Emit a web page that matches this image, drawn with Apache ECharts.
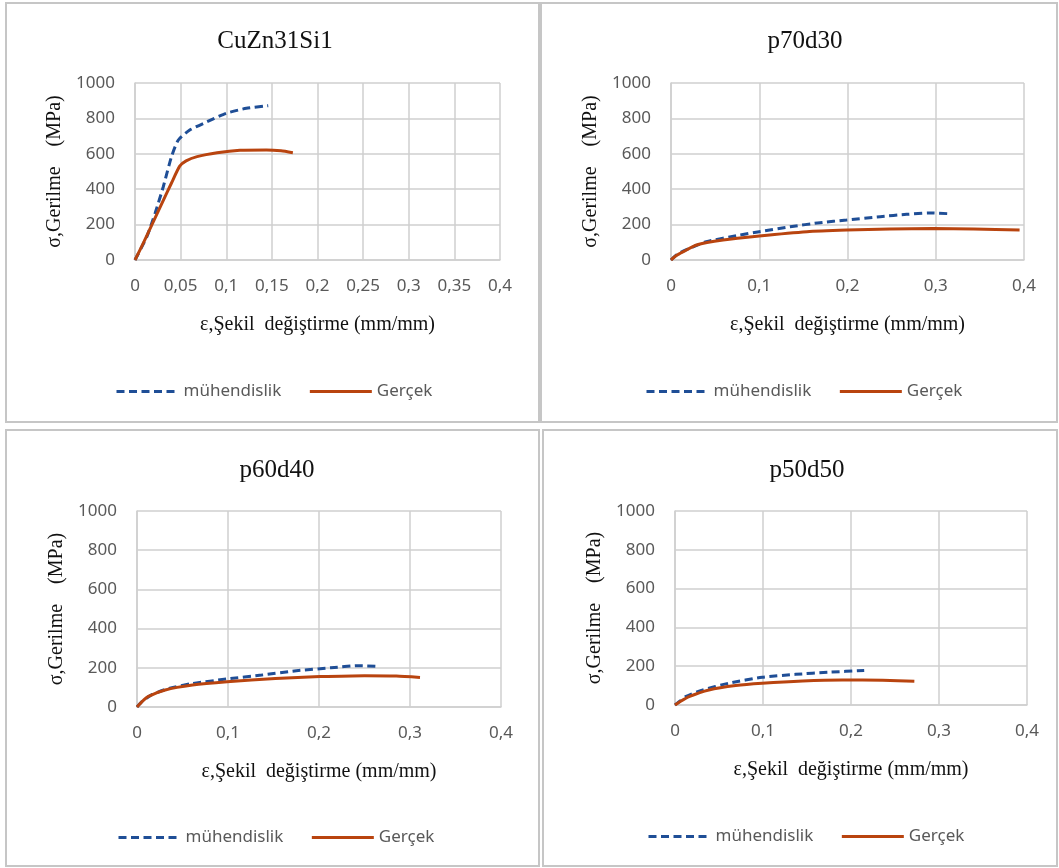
<!DOCTYPE html>
<html>
<head>
<meta charset="utf-8">
<script src="https://cdn.jsdelivr.net/npm/echarts@6/dist/echarts.min.js"></script>
<style>
  html, body { margin: 0; padding: 0; background: #fff; }
  #chart { width: 1059px; height: 868px; }
</style>
</head>
<body>
<div id="chart"></div>
<script>
// panel titles
var titles = ['CuZn31Si1', 'p70d30', 'p60d40', 'p50d50'];
var seriesNames = ['mühendislik', 'Gerçek'];

// [strain, stress MPa]
var cuznMuh = [[0,0],[0.013,132],[0.022,264],[0.031,414],[0.040,584],[0.0475,678],[0.06,734],[0.079,781],[0.10,829],[0.122,857],[0.146,872]];
var cuznGer = [[0,0],[0.01,105],[0.02,215],[0.03,325],[0.04,435],[0.049,530],[0.056,560],[0.068,584],[0.09,606],[0.115,620],[0.144,622],[0.16,617],[0.173,606]];

var p70Muh = [[0,0],[0.008,35],[0.021,66],[0.04,103],[0.078,141],[0.10,160],[0.135,188],[0.169,211],[0.199,226],[0.237,245],[0.267,258],[0.293,266],[0.313,262]];
var p70Ger = [[0,0],[0.006,25],[0.014,47],[0.029,85],[0.059,113],[0.10,136],[0.154,160],[0.199,169],[0.248,175],[0.297,178],[0.343,175],[0.395,169]];

var p60Muh = [[0,0],[0.006,30],[0.0155,61],[0.035,95],[0.061,120],[0.099,143],[0.137,163],[0.175,185],[0.213,200],[0.243,211],[0.263,208]];
var p60Ger = [[0,0],[0.005,25],[0.012,53],[0.031,87],[0.061,112],[0.099,129],[0.152,146],[0.201,155],[0.25,160],[0.285,158],[0.311,151]];

var p50Muh = [[0,0],[0.005,18],[0.012,43],[0.031,77],[0.061,112],[0.099,143],[0.137,158],[0.175,169],[0.215,178]];
var p50Ger = [[0,0],[0.006,18],[0.016,43],[0.0385,77],[0.069,100],[0.099,112],[0.145,124],[0.19,129],[0.236,127],[0.272,122]];

var panelData = [[cuznMuh, cuznGer], [p70Muh, p70Ger], [p60Muh, p60Ger], [p50Muh, p50Ger]];
var xSteps = [0.05, 0.1, 0.1, 0.1];

// layout of each panel (px)
var grids = [
  {left: 135, top: 83, width: 365, height: 177},
  {left: 671, top: 83, width: 353, height: 177},
  {left: 137, top: 511, width: 364, height: 196},
  {left: 675, top: 511, width: 352, height: 194}
];
var frames = [
  {x: 6, y: 3, width: 533, height: 419},
  {x: 541, y: 3, width: 516, height: 419},
  {x: 6, y: 430, width: 533, height: 436},
  {x: 543, y: 430, width: 514, height: 436}
];
var titlePos = [[270, 24], [800, 24], [272, 453], [802, 453]];
var legendPos = [[110, 378], [640, 378], [112, 824], [642, 823]];

var blue = '#1f4e96', red = '#b9440f';
var serif = 'Liberation Serif', sans = 'Noto Sans';

var chart = echarts.init(document.getElementById('chart'));

var option = {
  backgroundColor: '#fff',
  animation: false,
  title: [],
  legend: [],
  grid: [],
  xAxis: [],
  yAxis: [],
  series: [],
  graphic: []
};

function commaFmt(v) {
  return String(Math.round(v * 100) / 100).replace('.', ',');
}

for (var i = 0; i < 4; i++) {
  option.graphic.push({
    type: 'rect', shape: frames[i], silent: true, z: -1,
    style: {fill: 'none', stroke: '#c6c6c6', lineWidth: 2}
  });
  option.title.push({
    text: titles[i], left: titlePos[i][0], top: titlePos[i][1], textAlign: 'center',
    textStyle: {fontFamily: serif, fontSize: 25, fontWeight: 'normal', color: '#111'}
  });
  option.legend.push({
    data: seriesNames, left: legendPos[i][0], top: legendPos[i][1],
    itemWidth: 62, itemHeight: 14, itemGap: 27,
    itemStyle: {opacity: 0},
    lineStyle: {width: 3},
    textStyle: {fontFamily: sans, fontSize: 17, color: '#595959'}
  });
  option.grid.push(grids[i]);
  option.xAxis.push({
    type: 'value', gridIndex: i, min: 0, max: 0.4, interval: xSteps[i],
    name: 'ε,Şekil  değiştirme (mm/mm)', nameLocation: 'middle', nameGap: 55,
    nameTextStyle: {fontFamily: serif, fontSize: 20, color: '#111'},
    axisLine: {show: true, lineStyle: {color: '#cfcfcf', width: 1.5}},
    axisTick: {show: false},
    splitLine: {show: true, lineStyle: {color: '#cfcfcf', width: 1.5}},
    axisLabel: {margin: 18, fontFamily: sans, fontSize: 17, color: '#595959', formatter: commaFmt}
  });
  option.yAxis.push({
    type: 'value', gridIndex: i, min: 0, max: 1000, interval: 200,
    name: 'σ,Gerilme    (MPa)', nameLocation: 'middle', nameGap: 70,
    nameTextStyle: {fontFamily: serif, fontSize: 20, color: '#111'},
    axisLine: {show: true, lineStyle: {color: '#cfcfcf', width: 1.5}},
    axisTick: {show: false},
    splitLine: {show: true, lineStyle: {color: '#cfcfcf', width: 1.5}},
    axisLabel: {margin: 20, fontFamily: sans, fontSize: 17, color: '#595959',
      formatter: function (v) { return String(v); }}
  });
  option.series.push({
    name: seriesNames[0], type: 'line', xAxisIndex: i, yAxisIndex: i,
    data: panelData[i][0], showSymbol: false, symbol: 'none', smooth: 0.2,
    itemStyle: {color: blue},
    lineStyle: {color: blue, width: 3, type: [8, 4.5]}
  });
  option.series.push({
    name: seriesNames[1], type: 'line', xAxisIndex: i, yAxisIndex: i,
    data: panelData[i][1], showSymbol: false, symbol: 'none', smooth: 0.2,
    itemStyle: {color: red},
    lineStyle: {color: red, width: 3}
  });
}

chart.setOption(option);
</script>
</body>
</html>
